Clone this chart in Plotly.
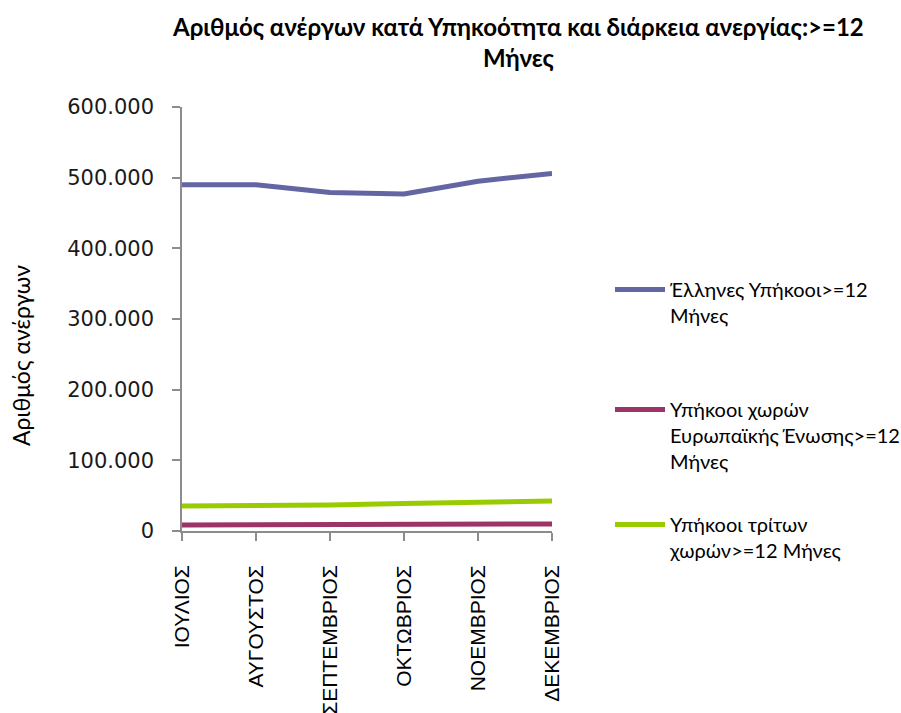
import plotly.graph_objects as go

# Months (x categories)
months = ["ΙΟΥΛΙΟΣ", "ΑΥΓΟΥΣΤΟΣ", "ΣΕΠΤΕΜΒΡΙΟΣ", "ΟΚΤΩΒΡΙΟΣ", "ΝΟΕΜΒΡΙΟΣ", "ΔΕΚΕΜΒΡΙΟΣ"]

# Long-term unemployed (>=12 months) by citizenship
greek = [490000, 490000, 479000, 477000, 495000, 506000]
eu = [8500, 8500, 8700, 9600, 9700, 9900]
third = [35400, 35400, 36800, 38800, 40600, 42500]

series_names = [
    "Έλληνες Υπήκοοι>=12<br>Μήνες",
    "Υπήκοοι χωρών<br>Ευρωπαϊκής Ένωσης>=12<br>Μήνες",
    "Υπήκοοι τρίτων<br>χωρών>=12 Μήνες",
]
series_values = [greek, eu, third]
series_colors = ["#6465A3", "#9C3467", "#99CC00"]
legend_ids = ["legend", "legend2", "legend3"]

W, H = 901, 713
L, R, T, B = 182, 349, 107, 182

fig = go.Figure()
for name, vals, col, lg in zip(series_names, series_values, series_colors, legend_ids):
    fig.add_trace(go.Scatter(
        x=months, y=vals, name=name, mode="lines",
        line=dict(color=col, width=5),
        legend=lg,
    ))

legend_font = dict(family="Lato", size=20, color="#000000")
px_x = lambda px: (px - L) / (W - L - R)
px_y = lambda py: (H - B - py) / (H - T - B)

def legend_box(top_px):
    return dict(
        x=px_x(610), y=px_y(top_px), xanchor="left", yanchor="top",
        font=legend_font, bgcolor="rgba(0,0,0,0)", borderwidth=0,
        itemwidth=50, valign="top", tracegroupgap=0,
    )

fig.update_layout(
    width=W, height=H,
    margin=dict(l=L, r=R, t=T, b=B, autoexpand=False),
    paper_bgcolor="white", plot_bgcolor="white",
    separators=",.",
    showlegend=True,
    legend=legend_box(270),
    legend2=legend_box(390),
    legend3=legend_box(505),
    xaxis=dict(
        type="category", range=[0, 5], automargin=False,
        showline=True, linecolor="#8C8C8C", linewidth=1.5,
        ticks="outside", ticklen=8, tickcolor="#8C8C8C", tickwidth=1.5,
        tickangle=-90, ticklabelstandoff=16,
        tickfont=dict(family="Liberation Sans", size=21, color="#000000"),
        showgrid=False, zeroline=False,
    ),
    yaxis=dict(
        range=[0, 600000], tickvals=[0, 100000, 200000, 300000, 400000, 500000, 600000],
        tickformat=",d", automargin=False,
        showline=True, linecolor="#8C8C8C", linewidth=1.5,
        ticks="outside", ticklen=8, tickcolor="#8C8C8C", tickwidth=1.5,
        ticklabelstandoff=14,
        tickfont=dict(family="DejaVu Sans", size=21, color="#1a1a1a"),
        showgrid=False, zeroline=False,
    ),
    annotations=[
        dict(
            text="<b>Αριθμός ανέργων κατά Υπηκοότητα και διάρκεια ανεργίας:>=12<br>Μήνες</b>",
            xref="paper", yref="paper", x=px_x(518), y=px_y(10),
            xanchor="center", yanchor="top", showarrow=False,
            font=dict(family="Lato", size=24, color="#000000"),
        ),
        dict(
            text="Αριθμός ανέργων", textangle=-90,
            xref="paper", yref="paper", x=px_x(21), y=px_y(356),
            xanchor="center", yanchor="middle", showarrow=False,
            font=dict(family="Lato", size=23, color="#000000"),
        ),
    ],
)

fig.write_html("out.html")
